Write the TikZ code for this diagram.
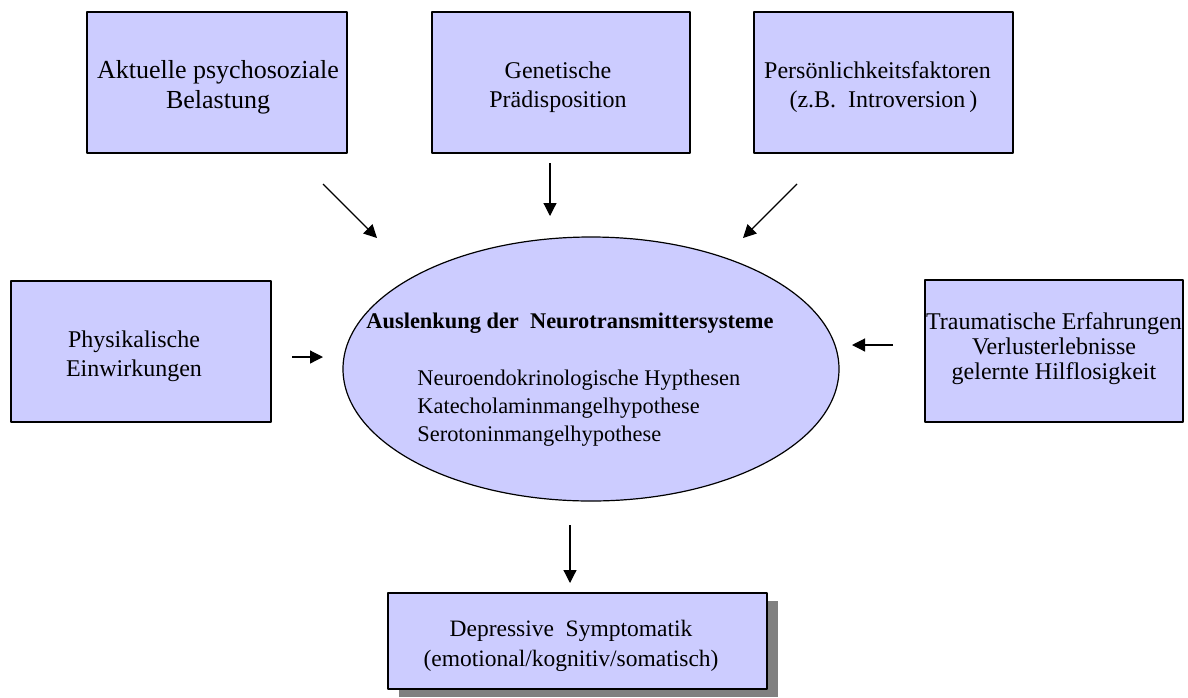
\documentclass[tikz,border=0pt]{standalone}
\usepackage{fontspec}
\setmainfont{Liberation Serif}
\usetikzlibrary{shapes.geometric,shadows,arrows.meta}
\definecolor{boxfill}{HTML}{CCCCFF}
\definecolor{shadowgray}{HTML}{808080}
\begin{document}
\begin{tikzpicture}[x=0.5pt, y=-0.5pt, font=\fontsize{12}{14.5}\selectfont, line join=round,
		>={Triangle[length=6.5pt,width=6.5pt]},
		fbox/.style={draw=black, fill=boxfill, line width=0.6pt, inner sep=0pt},
		ftext/.style={align=center, inner sep=0pt},
		fell/.style={ellipse, draw=black, fill=boxfill, line width=0.6pt, inner sep=0pt,
			minimum width=248pt, minimum height=132pt},
		arr/.style={->, line width=0.6pt}]
				\useasboundingbox (0,0) rectangle (1188,697);
				% obere Reihe
				\node[fbox, minimum width=130pt, minimum height=70.5pt] (akt) at (217,82.5) {};
				\node[ftext, font=\fontsize{13}{15}\selectfont] (akt-t) at (218,87.5) {Aktuelle psychosoziale\\Belastung};
				\node[fbox, minimum width=129pt, minimum height=70.5pt] (gen) at (561,82.5) {};
				\node[ftext] (gen-t) at (558,87.5) {Genetische\\Prädisposition};
				\node[fbox, minimum width=129.5pt, minimum height=70.5pt] (pers) at (883.5,82.5) {};
				\node[ftext] (pers-t) at (877.5,87.5) {Persönlichkeitsfaktoren\\\ \ (z.B.\ \ Introversion\,)};
				% mittlere Reihe
				\node[fbox, minimum width=130pt, minimum height=70.5pt] (phys) at (141,351.5) {};
				\node[ftext] (phys-t) at (134,356) {Physikalische\\Einwirkungen};
				\node[fbox, minimum width=129pt, minimum height=71pt] (trau) at (1054,351) {};
				\node[ftext, font=\fontsize{12}{12.5}\selectfont] (trau-t) at (1054,348.5) {Traumatische Erfahrungen\\Verlusterlebnisse\\gelernte Hilflosigkeit};
				\node[fell] (ell) at (591,369) {};
				\node[anchor=base, inner sep=0pt, font=\fontsize{11.2}{14}\selectfont\bfseries] (ell-head) at (570,328) {Auslenkung der\ \ Neurotransmittersysteme};
				\node[anchor=base west, inner sep=0pt, align=left, font=\fontsize{11.2}{14}\selectfont] (ell-body) at (417,441) {Neuroendokrinologische Hypthesen\\Katecholaminmangelhypothese\\Serotoninmangelhypothese};
				% unten
				\node[fbox, minimum width=189.5pt, minimum height=48pt,
					drop shadow={shadow xshift=5.5pt, shadow yshift=-4pt, fill=shadowgray, opacity=1}] (dep) at (577.5,641) {};
				\node[ftext, font=\fontsize{11.75}{15}\selectfont] (dep-t) at (571,645.5) {Depressive\ \ Symptomatik\\(emotional/kognitiv/somatisch)};
				% Pfeile
				\coordinate (akt-a) at (323,184);	\coordinate (akt-b) at (377,238);
				\coordinate (gen-a) at (550,163);	\coordinate (gen-b) at (550,216);
				\coordinate (pers-a) at (797,184);	\coordinate (pers-b) at (743,238);
				\coordinate (phys-a) at (292,357);	\coordinate (phys-b) at (323,357);
				\coordinate (trau-a) at (893,345);	\coordinate (trau-b) at (852,345);
				\coordinate (dep-a) at (570,525);	\coordinate (dep-b) at (570,583);
				\draw[arr] (akt-a)--(akt-b);
				\draw[arr] (gen-a)--(gen-b);
				\draw[arr] (pers-a)--(pers-b);
				\draw[arr] (phys-a)--(phys-b);
				\draw[arr] (trau-a)--(trau-b);
				\draw[arr] (dep-a)--(dep-b);
\end{tikzpicture}
\end{document}
